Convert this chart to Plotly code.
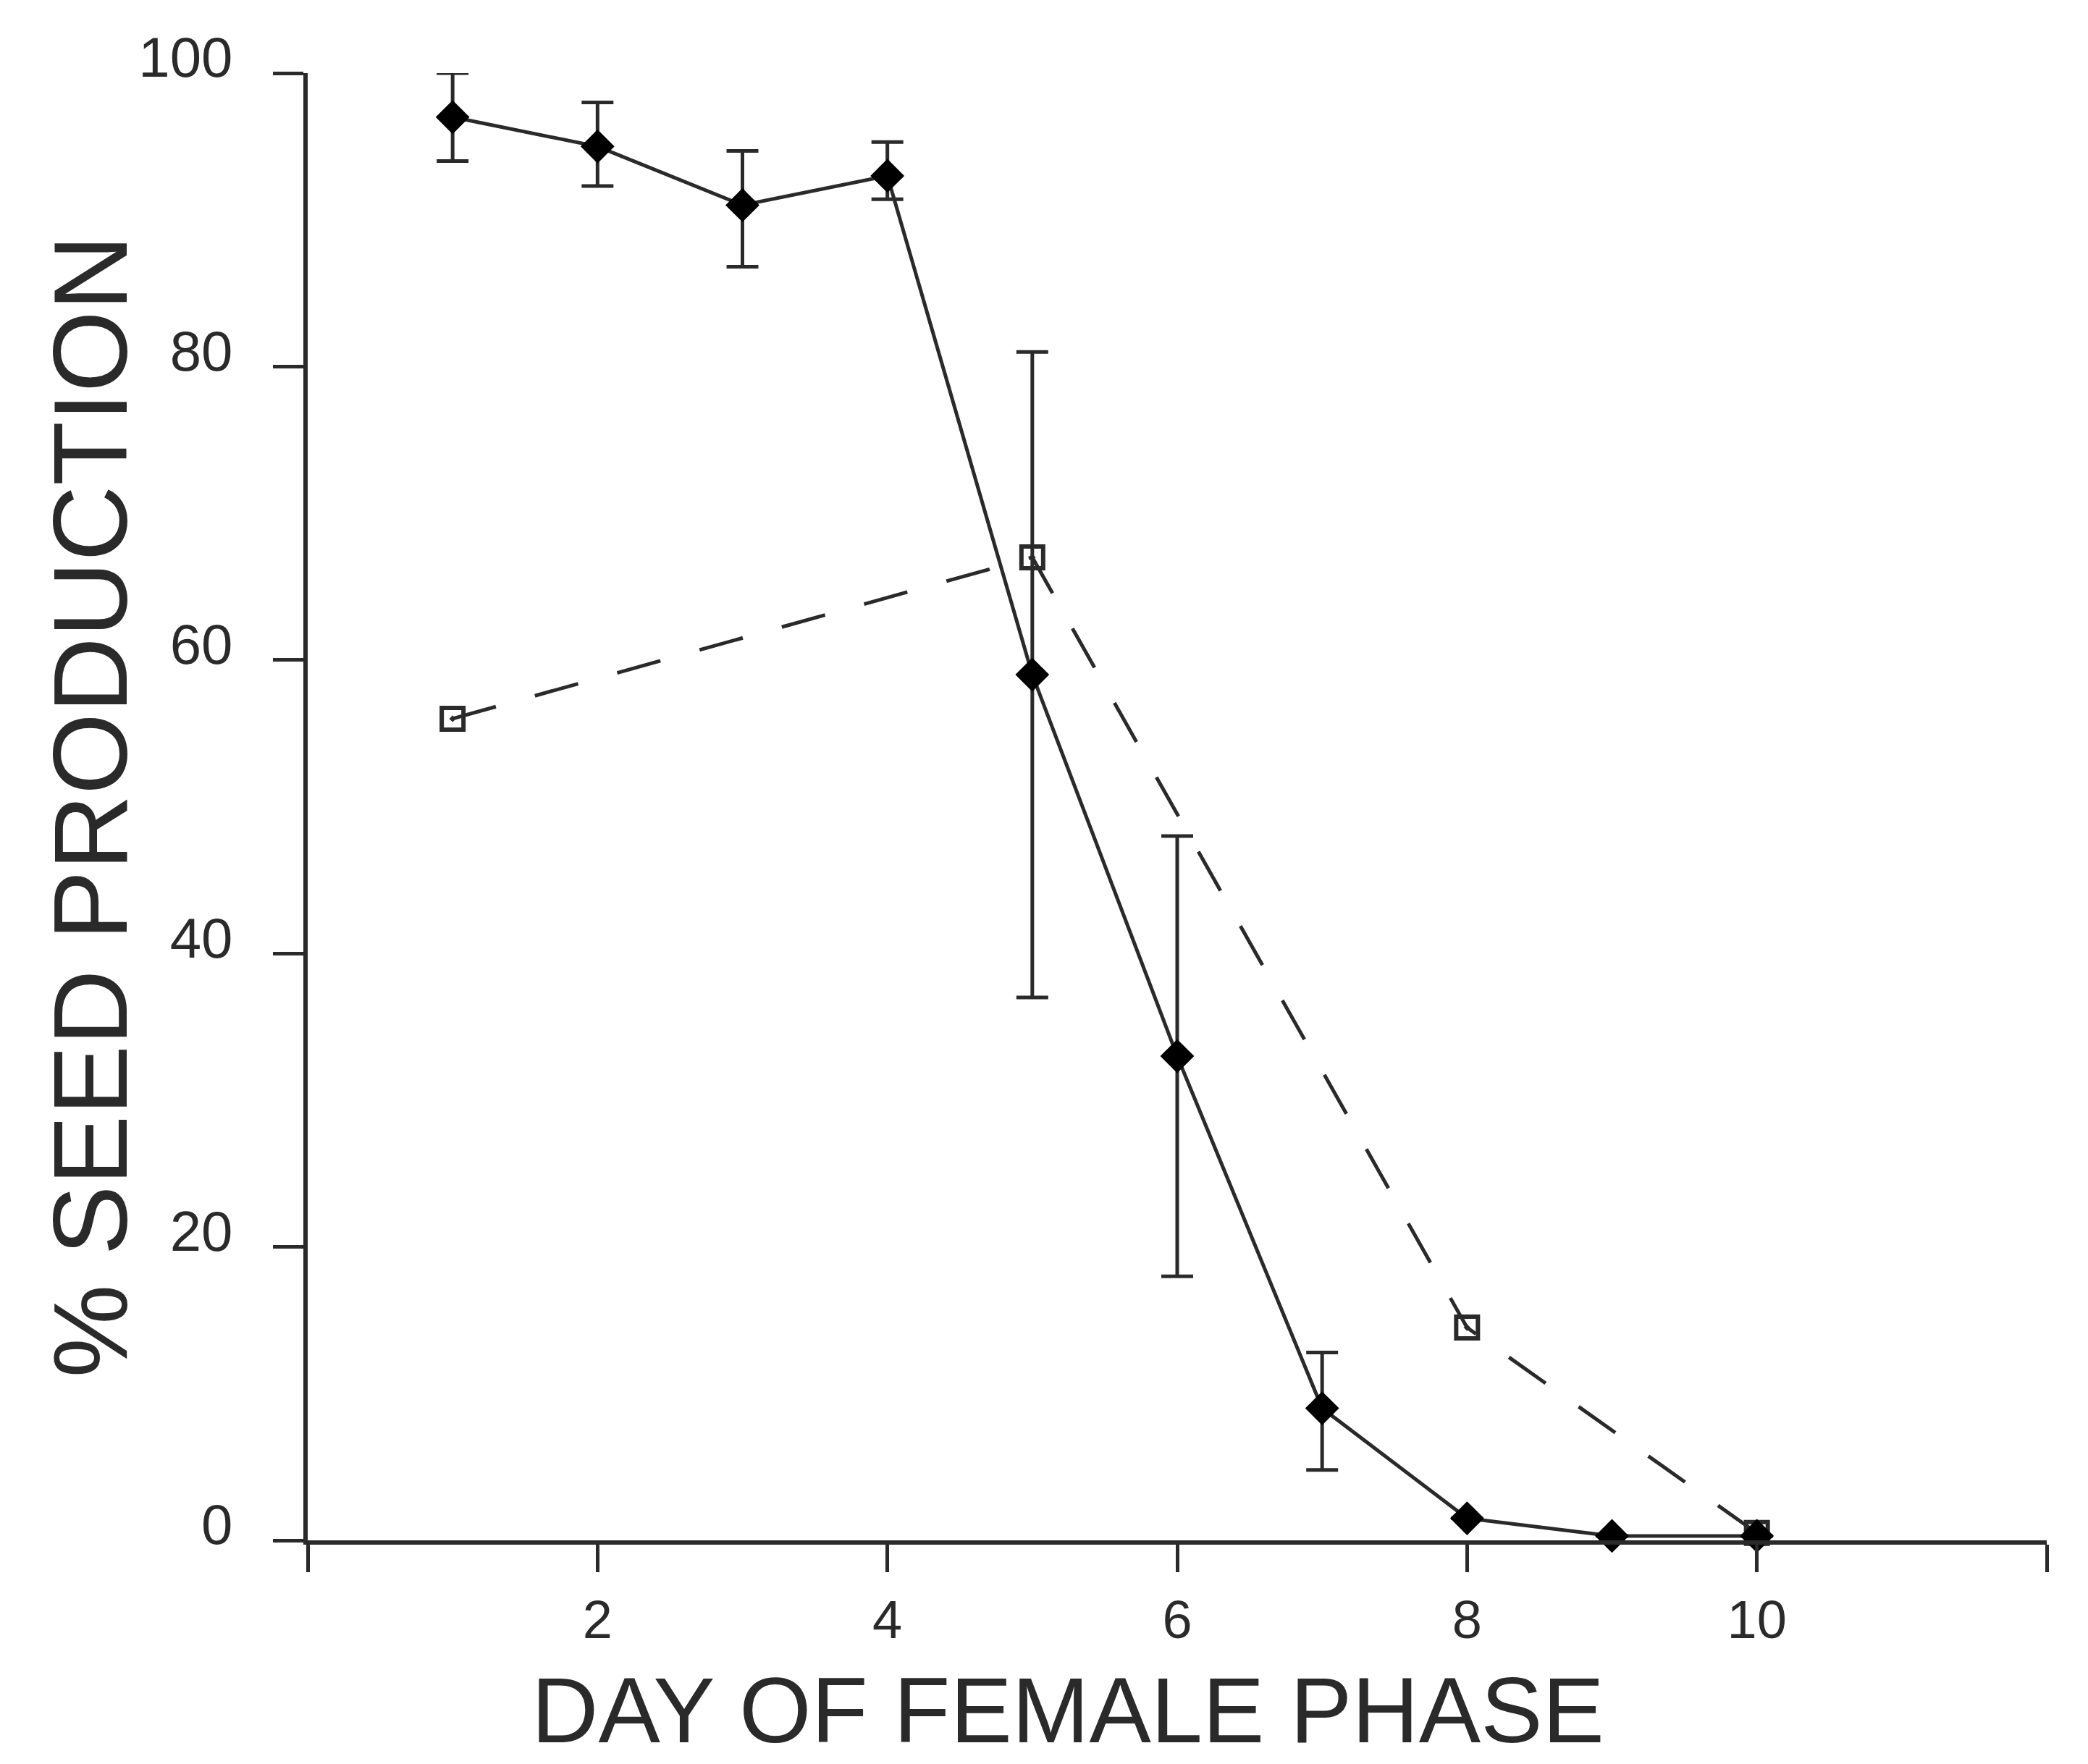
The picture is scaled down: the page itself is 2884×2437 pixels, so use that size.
import plotly.graph_objects as go

# Data
days_solid = [1, 2, 3, 4, 5, 6, 7, 8, 9, 10]
seed_solid = [97, 95, 91, 93, 59, 33, 9, 1.5, 0.3, 0.3]
err_plus = [3, 3, 3.7, 2.3, 22, 15, 3.8, 0, 0, 0]
err_minus = [3, 2.7, 4.2, 1.6, 22, 15, 4.2, 0, 0, 0]

days_dashed = [1, 5, 8, 10]
seed_dashed = [56, 67, 14.5, 0.5]

x_tickvals = [0, 2, 4, 6, 8, 10, 12]
x_ticktext = ["", "2", "4", "6", "8", "10", ""]
y_tickvals = [0, 20, 40, 60, 80, 100]
y_ticktext = ["0", "20", "40", "60", "80", "100"]

FONT = "Liberation Sans, Arial, sans-serif"
INK = "#2a2a2a"

fig = go.Figure()

fig.add_trace(go.Scatter(
    x=days_dashed, y=seed_dashed, mode="lines+markers",
    line=dict(color=INK, width=5, dash="62px,56px"),
    marker=dict(symbol="square-open-dot", size=30, color=INK,
                line=dict(color=INK, width=6)),
    cliponaxis=False, showlegend=False,
))

fig.add_trace(go.Scatter(
    x=days_solid, y=seed_solid, mode="lines+markers",
    line=dict(color=INK, width=5),
    marker=dict(symbol="diamond", size=36, color="black"),
    error_y=dict(type="data", symmetric=False, array=err_plus,
                 arrayminus=err_minus, color=INK, thickness=5, width=22),
    cliponaxis=False, showlegend=False,
))

fig.update_layout(
    width=2884, height=2437,
    margin=dict(l=425, r=57, t=101, b=309),
    paper_bgcolor="white", plot_bgcolor="white",
    font=dict(family=FONT, color=INK),
    annotations=[
        dict(text="DAY OF FEMALE PHASE", xref="paper", yref="paper",
             x=(1475 - 425) / (2827 - 425), y=-(2362 - 2128) / (2128 - 101),
             xanchor="center", yanchor="middle", showarrow=False,
             font=dict(size=128, family=FONT, color=INK)),
        dict(text="% SEED PRODUCTION", xref="paper", yref="paper",
             x=-(425 - 124) / (2827 - 425), y=0.5, textangle=-90,
             xanchor="center", yanchor="middle", showarrow=False,
             font=dict(size=145, family=FONT, color=INK)),
    ],
)

fig.update_xaxes(
    range=[0, 12], tickvals=x_tickvals, ticktext=x_ticktext,
    showgrid=False, zeroline=False, showline=True, linecolor=INK, linewidth=6,
    ticks="outside", ticklen=38, tickwidth=5, tickcolor=INK,
    tickfont=dict(size=74, family=FONT, color=INK), ticklabelstandoff=2,
)
fig.update_yaxes(
    range=[0, 100], tickvals=y_tickvals, ticktext=y_ticktext,
    showgrid=False, zeroline=False, showline=True, linecolor=INK, linewidth=6,
    ticks="outside", ticklen=42, tickwidth=5, tickcolor=INK,
    tickfont=dict(size=78, family=FONT, color=INK), ticklabelstandoff=40,
    ticklabelshift=-22,
)

fig.write_html("out.html")
